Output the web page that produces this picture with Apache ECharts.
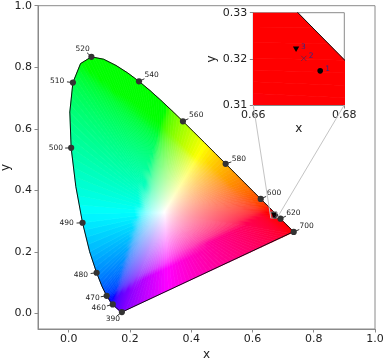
<!DOCTYPE html>
<html><head><meta charset="utf-8">
<script src="https://cdn.jsdelivr.net/npm/echarts@6/dist/echarts.min.js"></script>
<style>html,body{margin:0;padding:0;background:#fff}#c{width:386px;height:362px}</style>
</head><body><div id="c"></div>
<script>
// ---------------- data ----------------
const wavelengths = [390,395,400,405,410,415,420,425,430,435,440,445,450,455,460,465,470,475,480,485,490,495,500,505,510,515,520,525,530,535,540,545,550,555,560,565,570,575,580,585,590,595,600,605,610,615,620,625,630,635,640,645,650,655,660,665,670,675,680,685,690,695,700];
const locusX = [0.1738,0.1736,0.1733,0.1730,0.1726,0.1721,0.1714,0.1703,0.1689,0.1669,0.1644,0.1611,0.1566,0.1510,0.1440,0.1355,0.1241,0.1096,0.0913,0.0687,0.0454,0.0235,0.0082,0.0039,0.0139,0.0389,0.0743,0.1142,0.1547,0.1929,0.2296,0.2658,0.3016,0.3373,0.3731,0.4087,0.4441,0.4788,0.5125,0.5448,0.5752,0.6029,0.6270,0.6482,0.6658,0.6801,0.6915,0.7006,0.7079,0.7140,0.7190,0.7230,0.7260,0.7283,0.7300,0.7311,0.7320,0.7327,0.7334,0.7340,0.7344,0.7346,0.7347];
const locusY = [0.0049,0.0049,0.0048,0.0048,0.0048,0.0048,0.0051,0.0058,0.0069,0.0086,0.0109,0.0138,0.0177,0.0227,0.0297,0.0399,0.0578,0.0868,0.1327,0.2007,0.2950,0.4127,0.5384,0.6548,0.7502,0.8120,0.8338,0.8262,0.8059,0.7816,0.7543,0.7243,0.6923,0.6589,0.6245,0.5896,0.5547,0.5202,0.4866,0.4544,0.4242,0.3965,0.3725,0.3514,0.3340,0.3197,0.3083,0.2993,0.2920,0.2859,0.2809,0.2770,0.2740,0.2717,0.2700,0.2689,0.2680,0.2673,0.2666,0.2660,0.2656,0.2654,0.2653];
const labeledWavelengths = [390,460,470,480,490,500,510,520,540,560,580,600,620,700];
const whitePoint = [0.3127, 0.3290];
const sampleNames = ['1','2','3'];
const sampleX = [0.6747, 0.6711, 0.6694];
const sampleY = [0.3174, 0.3201, 0.3221];
const mainTicks = [0, 0.2, 0.4, 0.6, 0.8, 1.0];
const insetXTicks = [0.66, 0.68];
const insetYTicks = [0.31, 0.32, 0.33];
const insetXRange = [0.66, 0.68];
const insetYRange = [0.31, 0.33];

// ---------------- style ----------------
const FONT = 'DejaVu Sans';
const SPINE = '#8a8a8a';
const LABEL_OFFSET = {390:[-9,7],460:[-14,3.6],470:[-14,2.3],480:[-15.7,2],490:[-16,0.7],500:[-15.3,0.6],510:[-15.7,-2],520:[-8.7,-8.3],540:[12.7,-6],560:[13.3,-6.3],580:[13.3,-4.3],600:[13.3,-6],620:[13,-6],700:[13,-5.6]};
const SAMPLE_SHAPE = ['circle','x','triangleDown'];

function enc(v){ return v <= 0.0031308 ? 12.92*v : 1.055*Math.pow(v,1/2.4) - 0.055; }
function chromaColor(x, y){
  const X = x/y, Y = 1, Z = (1-x-y)/y;
  let r = 3.2406*X - 1.5372*Y - 0.4986*Z;
  let g = -0.9689*X + 1.8758*Y + 0.0415*Z;
  let b = 0.0557*X - 0.2040*Y + 1.0570*Z;
  r = r > 0 ? enc(r) : 0; g = g > 0 ? enc(g) : 0; b = b > 0 ? enc(b) : 0;
  const m = Math.max(r, g, b) || 1;
  const c = v => Math.max(0, Math.min(255, Math.round(v/m*255)));
  return 'rgb(' + c(r) + ',' + c(g) + ',' + c(b) + ')';
}

// boundary used for the fill (render-time subdivision for smooth shading)
function fillBoundary(){
  const pts = [];
  const n = wavelengths.length;
  for (let i = 0; i < n-1; i++){
    const sub = 4;
    for (let k = 0; k < sub; k++){
      const t = k/sub;
      pts.push([locusX[i] + t*(locusX[i+1]-locusX[i]), locusY[i] + t*(locusY[i+1]-locusY[i])]);
    }
  }
  pts.push([locusX[n-1], locusY[n-1]]);
  const sub = 48;
  for (let k = 1; k <= sub; k++){
    const t = k/sub;
    pts.push([locusX[n-1] + t*(locusX[0]-locusX[n-1]), locusY[n-1] + t*(locusY[0]-locusY[n-1])]);
  }
  return pts;
}
const BOUNDARY = fillBoundary();

function renderFan(params, api){
  const children = [];
  const W = whitePoint;
  const pw = api.coord(W);
  const N = 14;
  for (let i = 0; i < BOUNDARY.length-1; i++){
    const a = BOUNDARY[i], b = BOUNDARY[i+1];
    const M = [(a[0]+b[0])/2, (a[1]+b[1])/2];
    const pm = api.coord(M);
    const stops = [];
    for (let k = 0; k <= N; k++){
      const t = k/N;
      const x = W[0] + t*(M[0]-W[0]), y = W[1] + t*(M[1]-W[1]);
      stops.push({offset: t, color: chromaColor(x, y)});
    }
    const grad = new echarts.graphic.LinearGradient(pw[0], pw[1], pm[0], pm[1], stops, true);
    children.push({
      type: 'polygon',
      shape: {points: [pw, api.coord(a), api.coord(b)]},
      style: {fill: grad, stroke: grad, lineWidth: 0.7},
      silent: true
    });
  }
  return {type: 'group', children: children};
}

function renderWavelength(params, api){
  const p = api.coord([api.value(0), api.value(1)]);
  const w = api.value(2);
  const off = LABEL_OFFSET[w] || [10, -5];
  const len = Math.hypot(off[0], off[1]);
  const d = [off[0]/len, off[1]/len];
  return {type: 'group', children: [
    {type: 'line', shape: {x1: p[0], y1: p[1], x2: p[0]+d[0]*6, y2: p[1]+d[1]*6}, style: {stroke: '#333', lineWidth: 1}},
    {type: 'circle', shape: {cx: p[0], cy: p[1], r: 3.1}, style: {fill: '#333'}},
    {type: 'text', x: p[0]+off[0], y: p[1]+off[1], style: {text: String(w), font: '7.5px ' + FONT, fill: '#222', align: 'center', verticalAlign: 'middle'}}
  ]};
}

function makeSampleRenderer(withLabels){
  return function(params, api){
    const p = api.coord([api.value(0), api.value(1)]);
    const i = api.value(2);
    const shape = SAMPLE_SHAPE[i];
    const ch = [];
    if (shape === 'circle'){
      ch.push({type: 'circle', shape: {cx: p[0], cy: p[1], r: 2.8}, style: {fill: '#000'}});
    } else if (shape === 'x'){
      ch.push({type: 'line', shape: {x1: p[0]-2.6, y1: p[1]-2.6, x2: p[0]+2.6, y2: p[1]+2.6}, style: {stroke: '#6a1f45', lineWidth: 0.9}});
      ch.push({type: 'line', shape: {x1: p[0]-2.6, y1: p[1]+2.6, x2: p[0]+2.6, y2: p[1]-2.6}, style: {stroke: '#6a1f45', lineWidth: 0.9}});
    } else {
      ch.push({type: 'polygon', shape: {points: [[p[0]-3.2, p[1]-2.6], [p[0]+3.2, p[1]-2.6], [p[0], p[1]+2.9]]}, style: {fill: '#000'}});
    }
    if (withLabels){
      ch.push({type: 'text', x: p[0]+5, y: p[1]-2.2, style: {text: sampleNames[i], font: '7.5px ' + FONT, fill: '#2e2a86', align: 'left', verticalAlign: 'middle'}});
    }
    return {type: 'group', children: ch};
  };
}

const locusData = wavelengths.map((w, i) => [locusX[i], locusY[i]]);
locusData.push([locusX[0], locusY[0]]);
const labeledData = labeledWavelengths.map(w => { const i = wavelengths.indexOf(w); return [locusX[i], locusY[i], w]; });
const sampleData = sampleX.map((x, i) => [x, sampleY[i], i]);

const tickLabelStyle = {color: '#222', fontFamily: FONT, fontSize: 11};
const nameStyle = {color: '#222', fontFamily: FONT, fontSize: 12};

const option = {
  animation: false,
  backgroundColor: '#fff',
  grid: [
    {left: 38, right: 11, top: 5.7, bottom: 33, outerBoundsMode: 'none', containLabel: false, show: true, borderColor: SPINE, borderWidth: 1, backgroundColor: 'transparent'},
    {left: 253.3, top: 12.7, width: 91, height: 92.3, outerBoundsMode: 'none', containLabel: false, show: true, borderColor: SPINE, borderWidth: 1, backgroundColor: '#fff', z: 10}
  ],
  xAxis: [
    {type: 'value', gridIndex: 0, min: -0.1, max: 1.0, name: 'x', nameLocation: 'middle', nameGap: 20, nameMoveOverlap: false, nameTextStyle: nameStyle,
     axisLine: {show: true, onZero: false, lineStyle: {color: SPINE}},
     axisTick: {show: true, inside: false, length: 3.5, customValues: mainTicks, lineStyle: {color: SPINE}},
     axisLabel: {customValues: mainTicks, margin: 5, formatter: v => v.toFixed(1), ...tickLabelStyle},
     splitLine: {show: false}},
    {type: 'value', gridIndex: 1, min: insetXRange[0], max: insetXRange[1], name: 'x', nameLocation: 'middle', nameGap: 18, nameMoveOverlap: false, nameTextStyle: nameStyle,
     axisLine: {show: true, onZero: false, lineStyle: {color: SPINE}},
     axisTick: {show: true, inside: false, length: 3.5, customValues: insetXTicks, lineStyle: {color: SPINE}},
     axisLabel: {customValues: insetXTicks, margin: 5, formatter: v => v.toFixed(2), ...tickLabelStyle, showMinLabel: true, showMaxLabel: true},
     splitLine: {show: false}, z: 10}
  ],
  yAxis: [
    {type: 'value', gridIndex: 0, min: -0.05, max: 1.0, name: 'y', nameLocation: 'middle', nameGap: 26, nameMoveOverlap: false, nameTextStyle: nameStyle,
     axisLine: {show: true, onZero: false, lineStyle: {color: SPINE}},
     axisTick: {show: true, inside: false, length: 3.5, customValues: mainTicks, lineStyle: {color: SPINE}},
     axisLabel: {customValues: mainTicks, margin: 6, formatter: v => v.toFixed(1), ...tickLabelStyle},
     splitLine: {show: false}},
    {type: 'value', gridIndex: 1, min: insetYRange[0], max: insetYRange[1], name: 'y', nameLocation: 'middle', nameGap: 35, nameMoveOverlap: false, nameTextStyle: nameStyle,
     axisLine: {show: true, onZero: false, lineStyle: {color: SPINE}},
     axisTick: {show: true, inside: false, length: 3.5, customValues: insetYTicks, lineStyle: {color: SPINE}},
     axisLabel: {customValues: insetYTicks, margin: 6, formatter: v => v.toFixed(2), ...tickLabelStyle, showMinLabel: true, showMaxLabel: true},
     splitLine: {show: false}, z: 10}
  ],
  series: [
    {type: 'custom', xAxisIndex: 0, yAxisIndex: 0, data: [whitePoint], renderItem: renderFan, z: 1, silent: true},
    {type: 'line', xAxisIndex: 0, yAxisIndex: 0, data: locusData, showSymbol: false, lineStyle: {color: '#111', width: 1}, z: 2, silent: true},
    {type: 'custom', xAxisIndex: 0, yAxisIndex: 0, data: labeledData, renderItem: renderWavelength, z: 3, silent: true},
    {type: 'custom', xAxisIndex: 0, yAxisIndex: 0, data: sampleData, renderItem: makeSampleRenderer(false), z: 4, silent: true},
    {type: 'custom', xAxisIndex: 1, yAxisIndex: 1, data: [whitePoint], renderItem: renderFan, clip: true, z: 11, silent: true},
    {type: 'line', xAxisIndex: 1, yAxisIndex: 1, data: locusData, showSymbol: false, clip: true, lineStyle: {color: '#111', width: 1}, z: 12, silent: true},
    {type: 'custom', xAxisIndex: 1, yAxisIndex: 1, data: sampleData, renderItem: makeSampleRenderer(true), clip: true, z: 13, silent: true}
  ]
};

const chart = echarts.init(document.getElementById('c'), null, {renderer: 'canvas'});
chart.setOption(option);

const ll = chart.convertToPixel({xAxisIndex: 0, yAxisIndex: 0}, [insetXRange[0], insetYRange[0]]);
const ur = chart.convertToPixel({xAxisIndex: 0, yAxisIndex: 0}, [insetXRange[1], insetYRange[1]]);
const il = chart.convertToPixel({xAxisIndex: 1, yAxisIndex: 1}, [insetXRange[0], insetYRange[0]]);
const ir = chart.convertToPixel({xAxisIndex: 1, yAxisIndex: 1}, [insetXRange[1], insetYRange[0]]);
chart.setOption({graphic: [
  {type: 'rect', shape: {x: ll[0], y: ur[1], width: ur[0]-ll[0], height: ll[1]-ur[1]}, style: {fill: 'none', stroke: '#9a9a9a', lineWidth: 0.8}, z: 20, silent: true},
  {type: 'line', shape: {x1: il[0], y1: il[1], x2: ll[0], y2: ll[1]}, style: {stroke: '#c4c4c4', lineWidth: 1}, z: 20, silent: true},
  {type: 'line', shape: {x1: ir[0], y1: ir[1], x2: ur[0], y2: ll[1]}, style: {stroke: '#c4c4c4', lineWidth: 1}, z: 20, silent: true}
]});
</script>
</body></html>
